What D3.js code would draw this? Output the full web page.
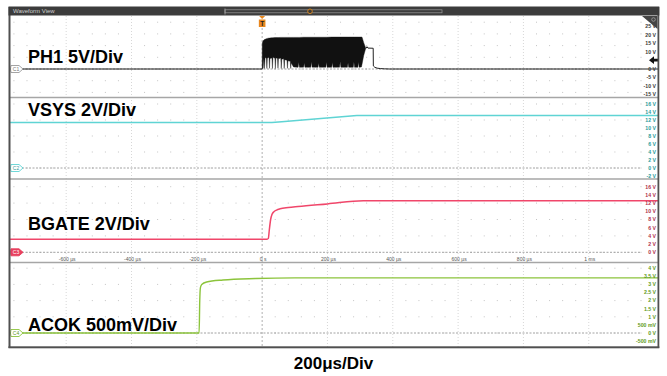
<!DOCTYPE html>
<html><head><meta charset="utf-8">
<script src="https://cdn.jsdelivr.net/npm/d3@7"></script>
<style>
html,body{margin:0;padding:0;background:#fff;}
svg{display:block;font-family:"Liberation Sans",Arial,sans-serif;}
</style>
</head><body>
<svg id="chart" width="667" height="376"></svg>
<script>
// ---- time axis (µs) ----
const timeTicks = [-600, -400, -200, 0, 200, 400, 600, 800, 1000];
const timeTickLabels = ["-600 µs", "-400 µs", "-200 µs", "0 s", "200 µs", "400 µs", "600 µs", "800 µs", "1 ms"];
const timeDomain = [-772, 1212];

// ---- vertical scale labels per channel ----
const ph1Ticks = [25, 20, 15, 10, 0, -5, -10, -15];
const vsysTicks = [16, 14, 12, 10, 8, 6, 4, 2, 0, -2];
const bgateTicks = [16, 14, 12, 10, 8, 6, 4, 2, 0];
const acokTicks = [4, 3.5, 3, 2.5, 2, 1.5, 1, 0.5, 0, -0.5];

// ---- PH1 switch node (V) ----
const ph1Before = [[-772, 0], [0, 0]];
// burst envelope: [time µs, upper V, lower V]
const ph1Burst = [
  [0, 0, 0], [0.3, 15.2, 0.3], [3, 16.6, 0.5], [5, 17.0, 6.5], [7, 17.3, 0.3],
  [9, 17.5, 6.8], [13, 17.8, 6.2], [14.5, 17.9, 0.3], [16, 18.0, 6.5], [21, 18.2, 6.8],
  [22.5, 18.2, 0.4], [24, 18.3, 6.2], [30, 18.4, 6.5], [31.5, 18.4, 0.3], [33, 18.4, 6.9],
  [39, 18.5, 6.3], [40.5, 18.5, 0.3], [42, 18.5, 6.6], [47, 18.5, 6.2], [48.5, 18.5, 0.5],
  [50, 18.5, 6.0], [57, 18.6, 6.4], [58.5, 18.6, 0.3], [60, 18.6, 5.8], [66, 18.6, 6.1],
  [67.5, 18.6, 0.3], [69, 18.6, 5.5], [76, 18.6, 5.2], [77.5, 18.6, 0.4], [79, 18.6, 4.8],
  [86, 18.6, 4.5], [87.5, 18.6, 0.3], [89, 18.6, 3.5], [96, 18.6, 1.2], [110, 18.6, 1.0],
  [112, 18.6, 4.0], [114, 18.6, 1.0], [127, 18.7, 1.1], [129, 18.7, 3.6], [131, 18.7, 1.0],
  [149, 18.7, 1.0], [151, 18.7, 4.2], [153, 18.7, 1.1], [171, 18.7, 1.0], [173, 18.7, 3.4],
  [175, 18.7, 1.0], [195, 18.7, 1.1], [197, 18.7, 4.0], [199, 18.7, 1.0], [213, 18.8, 1.0],
  [215, 18.8, 3.8], [217, 18.8, 1.0], [237, 18.8, 1.1], [239, 18.8, 4.4], [241, 18.8, 1.0],
  [261, 18.8, 1.0], [263, 18.8, 3.5], [265, 18.8, 1.0], [279, 18.8, 1.0], [281, 18.8, 4.1],
  [283, 18.8, 1.0], [293, 18.8, 1.0], [295, 18.8, 3.9], [297, 18.8, 1.0], [304, 18.8, 1.2],
  [306, 18.7, 3.0], [311, 15.5, 8.0], [317, 12.4, 12.0], [318, 12.2, 12.2]
];
const ph1After = [
  [318, 12.2], [321, 13.1], [324, 12.3], [340, 12.2], [340.5, 1.8], [345, 1.0],
  [352, 0.5], [362, 0.25], [375, 0.1], [390, 0], [1212, 0]
];
const ph1TriggerLevel = 5.2;

// ---- VSYS (V) ----
const vsys = [[-772, 11.4], [30, 11.4], [60, 11.55], [290, 13.1], [1212, 13.1]];

// ---- BGATE (V) ----
const bgate = [
  [-772, 3.2], [15, 3.2], [19, 3.4], [22, 5.5], [26, 8.0], [30, 9.2], [36, 9.9],
  [44, 10.3], [55, 10.6], [80, 10.9], [110, 11.15], [200, 11.8], [310, 12.6], [1212, 12.6]
];

// ---- ACOK (V) ----
const acok = [
  [-772, 0], [-193, 0], [-191, 2.0], [-189, 2.8], [-185, 3.0], [-170, 3.15],
  [-120, 3.27], [-20, 3.36], [100, 3.4], [1212, 3.4]
];

// ---------------------------------------------------------------
const svg = d3.select("#chart");
const X0 = 10, X1 = 658;
const x = d3.scaleLinear().domain(timeDomain).range([X0, X1]);

const fmtV = v => (Math.abs(v) < 1 && v !== 0) ? `${Math.round(v * 1000)} mV` : `${v} V`;

const panels = [
  { key: "ph1", title: "PH1 5V/Div", top: 16, bottom: 97.5, domain: [-15, 25], range: [94.5, 26.5],
    ticks: ph1Ticks, tickColor: "#3a3a3a", color: "#111", badge: "C1", badgeFill: "#fff",
    badgeStroke: "#9a9a9a", badgeText: "#777", gridPx: 11.7, titleY: 62.5 },
  { key: "vsys", title: "VSYS 2V/Div", top: 97.5, bottom: 179, domain: [-2, 16], range: [176, 104],
    ticks: vsysTicks, tickColor: "#2a9c9c", color: "#5fd4d4", badge: "C2", badgeFill: "#fff",
    badgeStroke: "#5fd4d4", badgeText: "#3a9a9a", gridPx: 16, titleY: 116 },
  { key: "bgate", title: "BGATE 2V/Div", top: 179, bottom: 262.5, domain: [0, 16], range: [252.3, 186.7],
    ticks: bgateTicks, tickColor: "#b0304c", color: "#f0466a", badge: "C3", badgeFill: "#e8405e",
    badgeStroke: "#e8405e", badgeText: "#fff", gridPx: 16.4, titleY: 230 },
  { key: "acok", title: "ACOK 500mV/Div", top: 262.5, bottom: 347, domain: [-0.5, 4], range: [341.1, 268.2],
    ticks: acokTicks, tickColor: "#5f9a1c", color: "#8cc43c", badge: "C4", badgeFill: "#fff",
    badgeStroke: "#8cc43c", badgeText: "#5f9a1c", gridPx: 16.2, titleY: 331 }
];
panels.forEach(p => { p.y = d3.scaleLinear().domain(p.domain).range(p.range); });
const P = Object.fromEntries(panels.map(p => [p.key, p]));

// background
svg.append("rect").attr("x", X0).attr("y", 16).attr("width", X1 - X0).attr("height", 331).attr("fill", "#fff");

// ---- graticule ----
const grid = svg.append("g");
const minorTimes = d3.range(-760, 1212, 40).filter(t => t % 200 !== 0);
panels.forEach(p => {
  const z = p.y(0);
  const rows = [];
  for (let yy = z; yy > p.top + 3; yy -= p.gridPx) rows.push(yy);
  for (let yy = z + p.gridPx; yy < p.bottom - 3; yy += p.gridPx) rows.push(yy);
  rows.forEach(yy => {
    grid.selectAll(null).data(minorTimes).enter().append("rect")
      .attr("x", d => x(d) - 0.5).attr("y", yy - 0.5).attr("width", 1).attr("height", 1)
      .attr("fill", "#c4c4c4");
  });
});
grid.selectAll(null).data(timeTicks.filter(t => t !== 0)).enter().append("line")
  .attr("x1", d => x(d)).attr("x2", d => x(d)).attr("y1", 16).attr("y2", 347)
  .attr("stroke", "#cdcdcd").attr("stroke-width", 0.8).attr("stroke-dasharray", "1,2");
grid.append("line").attr("x1", x(0)).attr("x2", x(0)).attr("y1", 16).attr("y2", 347)
  .attr("stroke", "#9a9a9a").attr("stroke-width", 0.8).attr("stroke-dasharray", "2,2");

// zero reference lines
panels.forEach(p => {
  grid.append("line").attr("x1", 22).attr("x2", 640).attr("y1", p.y(0)).attr("y2", p.y(0))
    .attr("stroke", "#8a8a8a").attr("stroke-width", 0.8).attr("stroke-dasharray", "2,1.5");
});

// panel separators
[97.5, 179, 262.5].forEach(yy => {
  svg.append("line").attr("x1", X0).attr("x2", X1).attr("y1", yy).attr("y2", yy)
    .attr("stroke", "#a6a6a6").attr("stroke-width", 1.6);
});

// time labels
svg.append("g").selectAll("text").data(timeTicks).enter().append("text")
  .attr("x", d => x(d) + 1).attr("y", 261).attr("text-anchor", "middle")
  .attr("font-size", 5).attr("fill", "#555").text((d, i) => timeTickLabels[i]);

// ---- traces ----
const line = (p) => d3.line().x(d => x(d[0])).y(d => p.y(d[1]));
const tr = svg.append("g").attr("fill", "none");

// PH1
tr.append("path").datum(ph1Burst)
  .attr("d", d3.area().x(d => x(d[0])).y0(d => P.ph1.y(d[2])).y1(d => P.ph1.y(d[1])))
  .attr("fill", "#111").attr("stroke", "#111").attr("stroke-width", 0.4);
tr.append("path").datum(ph1Before).attr("d", line(P.ph1)).attr("stroke", "#222").attr("stroke-width", 1);
tr.append("path").datum(ph1After).attr("d", line(P.ph1)).attr("stroke", "#222").attr("stroke-width", 1);

tr.append("path").datum(vsys).attr("d", line(P.vsys)).attr("stroke", P.vsys.color).attr("stroke-width", 1.5);
tr.append("path").datum(bgate).attr("d", line(P.bgate).curve(d3.curveMonotoneX)).attr("stroke", P.bgate.color).attr("stroke-width", 1.5);
tr.append("path").datum(acok).attr("d", line(P.acok).curve(d3.curveMonotoneX)).attr("stroke", P.acok.color).attr("stroke-width", 1.4);

// ---- channel titles ----
panels.forEach(p => {
  svg.append("text").attr("x", 28).attr("y", p.titleY).attr("font-size", 18)
    .attr("font-weight", "bold").attr("fill", "#000").text(p.title);
});

// ---- right scale labels ----
panels.forEach(p => {
  svg.append("g").selectAll("text").data(p.ticks).enter().append("text")
    .attr("x", 656).attr("y", d => p.y(d) + 1.8).attr("text-anchor", "end")
    .attr("font-size", 5.2).attr("font-weight", "bold").attr("fill", p.tickColor)
    .text(fmtV);
});

// ---- channel badges ----
panels.forEach(p => {
  const yy = p.y(0);
  const g = svg.append("g");
  g.append("path")
    .attr("d", `M11,${yy - 3.5} L19,${yy - 3.5} L23,${yy} L19,${yy + 3.5} L11,${yy + 3.5} Q10,${yy} 11,${yy - 3.5}Z`)
    .attr("fill", p.badgeFill).attr("stroke", p.badgeStroke).attr("stroke-width", 0.9);
  g.append("text").attr("x", 16).attr("y", yy + 1.8).attr("text-anchor", "middle")
    .attr("font-size", 5).attr("fill", p.badgeText).text(p.badge);
});

// PH1 trigger level arrow
{
  const yy = P.ph1.y(ph1TriggerLevel);
  svg.append("path").attr("d", `M649,${yy} L654,${yy - 3.8} L654,${yy - 1.4} L658,${yy - 1.4} L658,${yy + 1.4} L654,${yy + 1.4} L654,${yy + 3.8}Z`)
    .attr("fill", "#111");
}

// ---- frame & header ----
svg.append("rect").attr("x", 8.5).attr("y", 7).attr("width", 2).attr("height", 341).attr("fill", "#505050");
svg.append("rect").attr("x", 657.5).attr("y", 7).attr("width", 1.8).attr("height", 341).attr("fill", "#505050");
svg.append("rect").attr("x", 8.5).attr("y", 346.3).attr("width", 650.8).attr("height", 2).attr("fill", "#505050");
svg.append("rect").attr("x", 8.5).attr("y", 6.5).attr("width", 650.8).attr("height", 9).attr("fill", "#3c3c3c");
svg.append("text").attr("x", 13).attr("y", 13.3).attr("font-size", 6).attr("fill", "#cfcfcf").text("Waveform View");
svg.append("rect").attr("x", 225).attr("y", 9.8).attr("width", 217).attr("height", 3)
  .attr("fill", "none").attr("stroke", "#9a9a9a").attr("stroke-width", 0.7);
svg.append("line").attr("x1", 225).attr("x2", 225).attr("y1", 8.5).attr("y2", 14.5).attr("stroke", "#aaa").attr("stroke-width", 0.8);
svg.append("circle").attr("cx", 310).attr("cy", 11.3).attr("r", 2.3)
  .attr("fill", "#3c3c3c").attr("stroke", "#e08a1e").attr("stroke-width", 0.9);

// corner marker
svg.append("path").attr("d", "M642,16 L657.5,16 L657.5,29 Z").attr("fill", "#444");
svg.append("circle").attr("cx", 653.5).attr("cy", 19.5).attr("r", 1.8).attr("fill", "none").attr("stroke", "#bbb").attr("stroke-width", 0.6);

// trigger position marker
{
  const xt = x(0);
  svg.append("path").attr("d", `M${xt - 3},16 L${xt + 3},16 L${xt},19 Z`).attr("fill", "#e8871e");
  svg.append("rect").attr("x", xt - 3.3).attr("y", 19.5).attr("width", 6.6).attr("height", 7.5).attr("fill", "#e8871e");
  svg.append("text").attr("x", xt).attr("y", 25.6).attr("text-anchor", "middle").attr("font-size", 6.5)
    .attr("font-weight", "bold").attr("fill", "#222").text("T");
}

// ---- time base caption ----
svg.append("text").attr("x", 333.5).attr("y", 368.5).attr("text-anchor", "middle")
  .attr("font-size", 17).attr("font-weight", "bold").attr("fill", "#000").text("200μs/Div");
</script>
</body></html>
